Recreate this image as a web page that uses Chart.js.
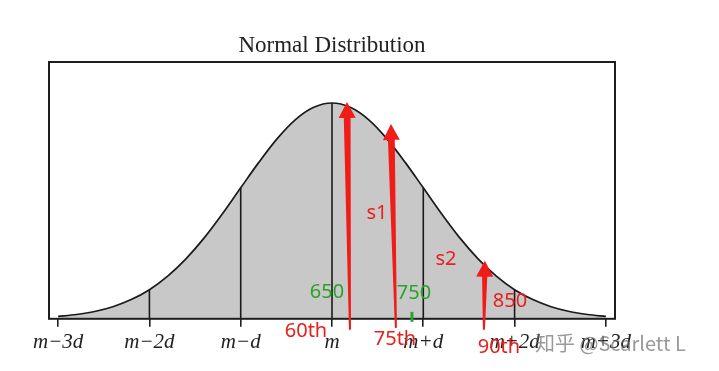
<!DOCTYPE html>
<html><head><meta charset="utf-8">
<script src="https://cdn.jsdelivr.net/npm/chart.js@4"></script>
<style>html,body{margin:0;padding:0;background:#fff}#wrap{width:719px;height:371px;position:relative}</style>
</head><body><div id="wrap"><canvas id="c" width="719" height="371"></canvas></div>
<script>
// Normal curve (height relative to peak)
const curveX = [-3.0,-2.8,-2.6,-2.4,-2.2,-2.0,-1.8,-1.6,-1.4,-1.2,-1.0,-0.8,-0.6,-0.4,-0.2,0.0,0.2,0.4,0.6,0.8,1.0,1.2,1.4,1.6,1.8,2.0,2.2,2.4,2.6,2.8,3.0];
const curveY = [0.011,0.020,0.034,0.056,0.089,0.135,0.198,0.278,0.375,0.487,0.607,0.726,0.835,0.923,0.980,1.000,0.980,0.923,0.835,0.726,0.607,0.487,0.375,0.278,0.198,0.135,0.089,0.056,0.034,0.020,0.011];
// Vertical lines at sigma positions
const sigmaX = [-2,-1,0,1,2];
// Axis ticks
const tickValues = [-3,-2,-1,0,1,2,3];
const tickLabels = ["m\u22123d","m\u22122d","m\u2212d","m","m+d","m+2d","m+3d"];
// Red arrows (data units)
const arrowTipX  = [0.164, 0.646, 1.675];
const arrowTipY  = [1.005, 0.903, 0.269];
const arrowBaseX = [0.197, 0.700, 1.664];
const arrowBaseY = [-0.051, -0.042, -0.051];
// Annotations
const noteText = ["650","750","850","s1","s2","60th","75th","90th"];
const noteX    = [-0.055, 0.898, 1.949, 0.493, 1.248, -0.285, 0.690, 1.829];
const noteY    = [0.125, 0.120, 0.079, 0.491, 0.278, -0.056, -0.097, -0.130];
const noteKind = ["g","g","r","r","r","r","r","r"];
// Green marker at 750
const markX = [0.876];
const markY0 = [-0.014];
const markY1 = [0.032];

const RED = '#f01c17', TRED = '#e8201c', GREEN = '#2ba32b';

const curveData = curveX.map((x,i)=>({x:x,y:curveY[i]}));
const sigmaSets = sigmaX.map(sx=>{
  const h = curveY[curveX.indexOf(sx)];
  return {type:'line', order:1, data:[{x:sx,y:0},{x:sx,y:h}], borderColor:'#1a1a1a', borderWidth:1.6, pointRadius:0, fill:false, tension:0};
});

const overlay = {
  id:'overlay',
  afterDatasetsDraw(chart){
    const ctx = chart.ctx, xs = chart.scales.x, ys = chart.scales.y, a = chart.chartArea;
    ctx.save();
    // frame
    ctx.strokeStyle = '#1e1e1e'; ctx.lineWidth = 2;
    ctx.strokeRect(a.left, a.top, a.right-a.left, a.bottom-a.top);
    // green marker
    ctx.strokeStyle = GREEN; ctx.lineWidth = 3;
    markX.forEach((mx,i)=>{
      ctx.beginPath();
      ctx.moveTo(xs.getPixelForValue(mx), ys.getPixelForValue(markY0[i]));
      ctx.lineTo(xs.getPixelForValue(mx), ys.getPixelForValue(markY1[i]));
      ctx.stroke();
    });
    // arrows
    ctx.fillStyle = RED;
    arrowTipX.forEach((tx0,i)=>{
      const tx = xs.getPixelForValue(tx0), ty = ys.getPixelForValue(arrowTipY[i]);
      const bx = xs.getPixelForValue(arrowBaseX[i]), by = ys.getPixelForValue(arrowBaseY[i]);
      const dx = tx-bx, dy = ty-by, L = Math.hypot(dx,dy);
      const ux = dx/L, uy = dy/L, nx = -uy, ny = ux;
      const hl = 16, hw = 8.5, sw = i===2 ? 2.6 : 3.4, bw = 1.0;
      const hx = tx-ux*hl, hy = ty-uy*hl;
      ctx.beginPath();
      ctx.moveTo(bx+nx*bw, by+ny*bw);
      ctx.lineTo(hx+nx*sw, hy+ny*sw);
      ctx.lineTo(hx+nx*hw, hy+ny*hw);
      ctx.lineTo(tx, ty);
      ctx.lineTo(hx-nx*hw, hy-ny*hw);
      ctx.lineTo(hx-nx*sw, hy-ny*sw);
      ctx.lineTo(bx-nx*bw, by-ny*bw);
      ctx.closePath();
      ctx.fill();
    });
    // notes
    ctx.font = '20px "Noto Sans", "DejaVu Sans", sans-serif';
    ctx.textAlign = 'center'; ctx.textBaseline = 'middle';
    noteText.forEach((t,i)=>{
      ctx.fillStyle = noteKind[i]==='g' ? GREEN : TRED;
      ctx.fillText(t, xs.getPixelForValue(noteX[i]), ys.getPixelForValue(noteY[i]));
    });
    // watermark
    ctx.font = '20px "Noto Sans CJK SC", "Noto Sans", sans-serif';
    ctx.textAlign = 'left';
    ctx.fillStyle = 'rgba(110,110,110,0.7)';
    ctx.fillText('知乎 @Scarlett L', 535, 343);
    ctx.restore();
  }
};

new Chart(document.getElementById('c'), {
  type:'line',
  data:{datasets:[
    {order:2, data:curveData, borderColor:'#1a1a1a', borderWidth:1.7, backgroundColor:'#c8c8c8', fill:'origin', pointRadius:0, cubicInterpolationMode:'monotone'},
    ...sigmaSets
  ]},
  options:{
    responsive:false, animation:false, devicePixelRatio:1,
    layout:{padding:{left:49, right:104, top:0, bottom:13}},
    plugins:{
      legend:{display:false}, tooltip:{enabled:false},
      title:{display:true, text:'Normal Distribution', color:'#222', font:{family:'"Liberation Serif", "Times New Roman", serif', size:23, weight:'normal'}, padding:{top:32, bottom:2.4}}
    },
    scales:{
      x:{type:'linear', min:-3.1, max:3.1,
        afterBuildTicks(s){ s.ticks = tickValues.map(v=>({value:v})); },
        ticks:{callback:(v)=>{const k=tickValues.indexOf(v);return k>=0?tickLabels[k]:'';}, color:'#222', padding:3, maxRotation:0, autoSkip:false,
          font:{family:'"Liberation Serif", "Times New Roman", serif', size:21, style:'italic'}},
        grid:{display:true, drawOnChartArea:false, drawTicks:true, tickLength:8, color:'#1e1e1e', lineWidth:1.6},
        border:{display:false}
      },
      y:{display:false, min:0, max:1.19}
    }
  },
  plugins:[overlay]
});
</script>
</body></html>
